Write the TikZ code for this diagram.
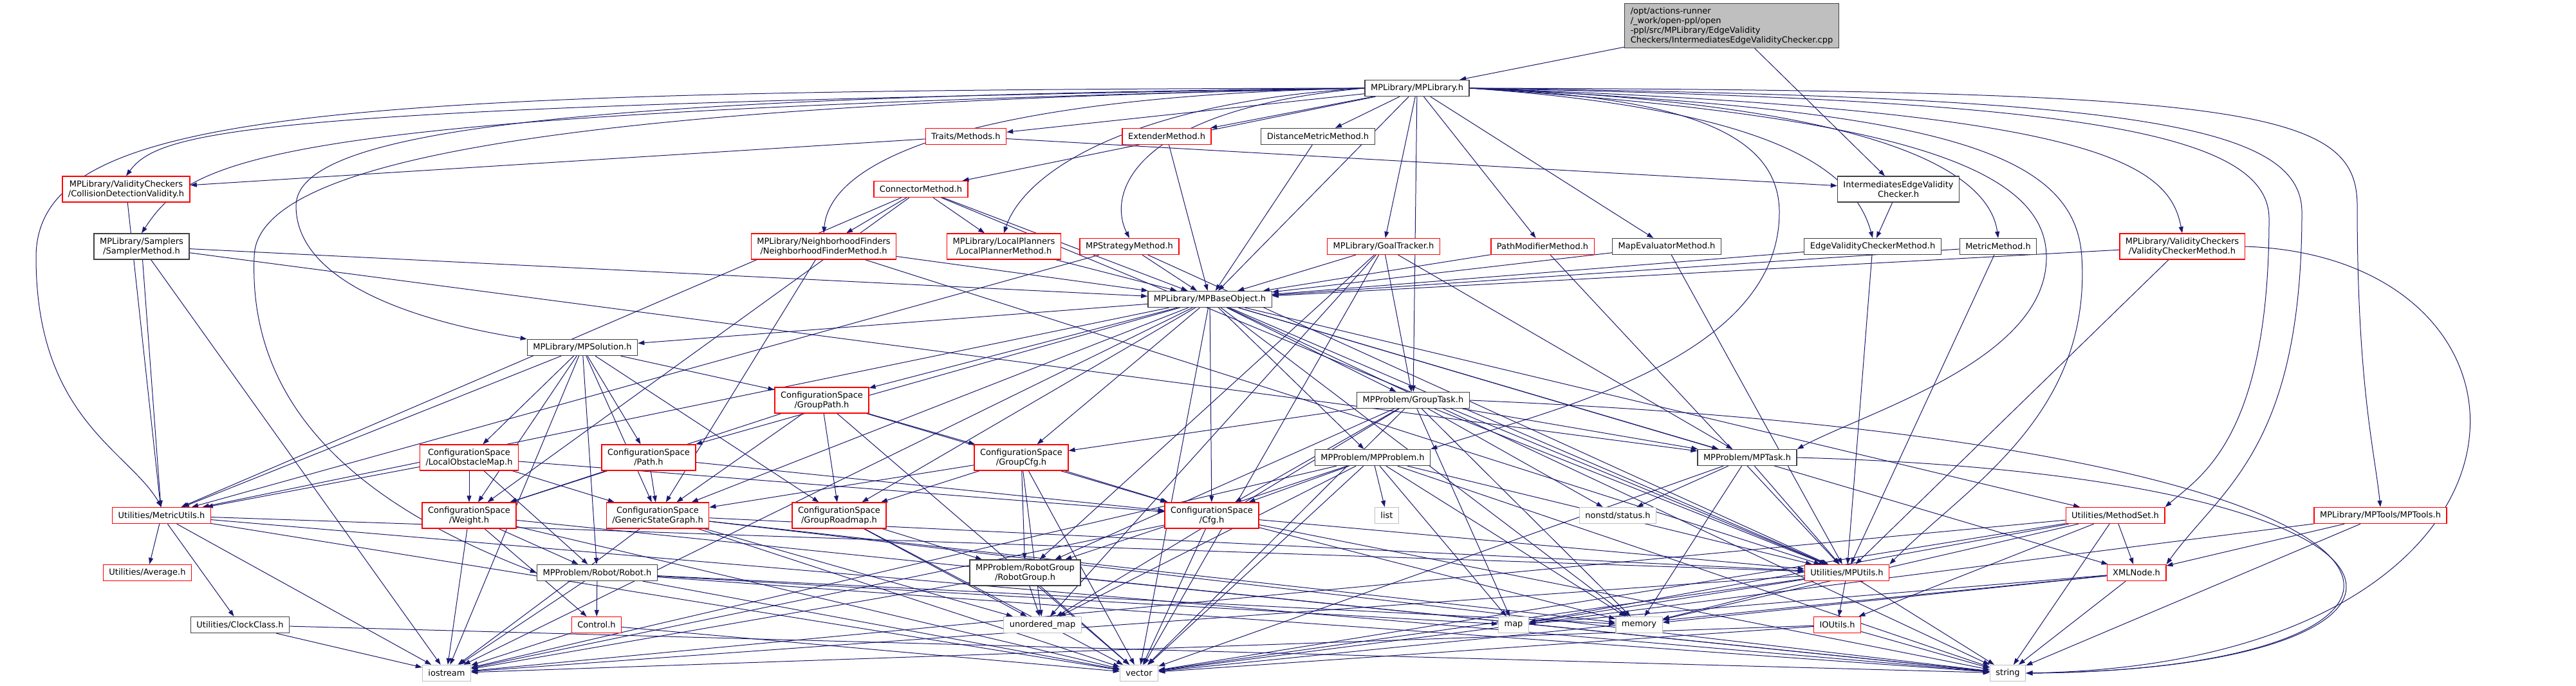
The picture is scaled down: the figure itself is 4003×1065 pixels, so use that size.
\documentclass[tikz,border=0pt]{standalone}
\usepackage{fontspec}
\setmainfont{DejaVu Sans}
\usetikzlibrary{arrows.meta}
\definecolor{edgeblue}{HTML}{191970}
\pgfdeclarelayer{bg}
\pgfsetlayers{bg,main}
\begin{document}
\begin{tikzpicture}[x=1pt, y=-1pt,
    font=\fontsize{13}{15}\selectfont,
    file/.style={draw=black!75, fill=white, line width=1.3pt, align=center,
      inner xsep=9pt, inner ysep=2pt, minimum height=25pt},
    trunc/.style={file, draw=red},
    sys/.style={file, draw=black!25},
    root/.style={file, fill=black!25, align=left, minimum height=69pt},
    twoline/.style={minimum height=40pt},
    dep/.style={draw=edgeblue, line width=1pt, -{Triangle[length=10pt,width=7pt]}}]
  \useasboundingbox (0,0) rectangle (4003,1065);
  \node[root] (root) at (2691,40) {/opt/actions-runner\\/\_work/open-ppl/open\\-ppl/src/MPLibrary/EdgeValidity\\Checkers/IntermediatesEdgeValidityChecker.cpp};
  \node[file] (mplib) at (2202,137) {MPLibrary/MPLibrary.h};
  \node[trunc] (traits) at (1501,212) {Traits/Methods.h};
  \node[trunc] (extender) at (1813,212) {ExtenderMethod.h};
  \node[file] (distmetric) at (2048,212) {DistanceMetricMethod.h};
  \node[trunc, twoline] (cdv) at (196,294) {MPLibrary/ValidityCheckers\\/CollisionDetectionValidity.h};
  \node[trunc] (connector) at (1431,294) {ConnectorMethod.h};
  \node[file, twoline] (ievc) at (2950,294) {IntermediatesEdgeValidity\\Checker.h};
  \node[file, twoline] (sampler) at (220,383) {MPLibrary/Samplers\\/SamplerMethod.h};
  \node[trunc, twoline] (nfm) at (1280,383) {MPLibrary/NeighborhoodFinders\\/NeighborhoodFinderMethod.h};
  \node[trunc, twoline] (lpm) at (1560,383) {MPLibrary/LocalPlanners\\/LocalPlannerMethod.h};
  \node[trunc] (strategy) at (1755,383) {MPStrategyMethod.h};
  \node[trunc] (goal) at (2150,383) {MPLibrary/GoalTracker.h};
  \node[trunc] (pathmod) at (2397,383) {PathModifierMethod.h};
  \node[file] (mapeval) at (2590,383) {MapEvaluatorMethod.h};
  \node[file] (evcm) at (2910,383) {EdgeValidityCheckerMethod.h};
  \node[file] (metric) at (3105,383) {MetricMethod.h};
  \node[trunc, twoline] (vcm) at (3391,383) {MPLibrary/ValidityCheckers\\/ValidityCheckerMethod.h};
  \node[file] (base) at (1880,465) {MPLibrary/MPBaseObject.h};
  \node[file] (solution) at (905,540) {MPLibrary/MPSolution.h};
  \node[trunc, twoline] (grouppath) at (1277,622) {ConfigurationSpace\\/GroupPath.h};
  \node[file] (grouptask) at (2196,622) {MPProblem/GroupTask.h};
  \node[trunc, twoline] (lom) at (729,711) {ConfigurationSpace\\/LocalObstacleMap.h};
  \node[trunc, twoline] (path) at (1008,711) {ConfigurationSpace\\/Path.h};
  \node[trunc, twoline] (groupcfg) at (1587,711) {ConfigurationSpace\\/GroupCfg.h};
  \node[file] (problem) at (2133,711) {MPProblem/MPProblem.h};
  \node[file] (task) at (2715,711) {MPProblem/MPTask.h};
  \node[trunc] (metricutils) at (251,801) {Utilities/MetricUtils.h};
  \node[trunc, twoline] (weight) at (729,801) {ConfigurationSpace\\/Weight.h};
  \node[trunc, twoline] (gsg) at (1022,801) {ConfigurationSpace\\/GenericStateGraph.h};
  \node[trunc, twoline] (roadmap) at (1304,801) {ConfigurationSpace\\/GroupRoadmap.h};
  \node[trunc, twoline] (cfg) at (1883,801) {ConfigurationSpace\\/Cfg.h};
  \node[sys] (list) at (2155,801) {list};
  \node[sys] (status) at (2514,801) {nonstd/status.h};
  \node[trunc] (methodset) at (3287,801) {Utilities/MethodSet.h};
  \node[trunc] (mptools) at (3699,801) {MPLibrary/MPTools/MPTools.h};
  \node[trunc] (average) at (229,890) {Utilities/Average.h};
  \node[file] (robot) at (928,890) {MPProblem/Robot/Robot.h};
  \node[file, twoline] (robotgroup) at (1593,890) {MPProblem/RobotGroup\\/RobotGroup.h};
  \node[trunc] (mputils) at (2870,890) {Utilities/MPUtils.h};
  \node[trunc] (xmlnode) at (3320,890) {XMLNode.h};
  \node[file] (clock) at (373,971) {Utilities/ClockClass.h};
  \node[trunc] (control) at (927,971) {Control.h};
  \node[sys] (umap) at (1620,971) {unordered\_map};
  \node[sys] (map) at (2352,971) {map};
  \node[sys] (memory) at (2547,971) {memory};
  \node[trunc] (ioutils) at (2855,971) {IOUtils.h};
  \node[sys] (iostream) at (694,1046) {iostream};
  \node[sys] (vector) at (1770,1046) {vector};
  \node[sys] (string) at (3120,1046) {string};
  \begin{pgfonlayer}{bg}
    \foreach \t in {mplib,ievc} \draw[dep] (root) -- (\t);
    \foreach \t in {traits,extender,distmetric,connector,goal,pathmod,mapeval,base,grouptask}
      \draw[dep] (mplib) -- (\t);
    \draw[dep] (mplib.west) .. controls (400,165) and (250,200) .. (cdv.north);
    \draw[dep] (mplib.west) .. controls (420,175) and (300,240) .. (sampler.north);
    \draw[dep] (mplib.west) .. controls (500,140) and (56,170) .. (56,400) .. controls (56,650) and (200,700) .. (metricutils.north);
    \draw[dep] (mplib.west) .. controls (900,150) and (460,200) .. (460,320) .. controls (460,440) and (650,500) .. (solution.north west);
    \draw[dep] (mplib.west) .. controls (1000,160) and (395,230) .. (395,400) .. controls (385,660) and (600,800) .. (robot.west);
    \draw[dep] (mplib.west) .. controls (1500,150) and (1290,250) .. (nfm.north);
    \draw[dep] (mplib.west) .. controls (1750,160) and (1590,270) .. (lpm.north);
    \draw[dep] (mplib.west) .. controls (1760,170) and (1720,300) .. (strategy.north);
    \draw[dep] (mplib.east) .. controls (2750,170) and (2880,260) .. (evcm.north);
    \draw[dep] (mplib.east) .. controls (2900,160) and (3090,260) .. (metric.north);
    \draw[dep] (mplib.east) .. controls (3250,170) and (3370,250) .. (vcm.north);
    \draw[dep] (mplib.east) .. controls (2600,150) and (2765,200) .. (2765,330) .. controls (2765,560) and (2400,640) .. (problem.north east);
    \draw[dep] (mplib.east) .. controls (2950,180) and (3180,260) .. (3180,400) .. controls (3180,560) and (2900,640) .. (task.north east);
    \draw[dep] (mplib.east) .. controls (3000,170) and (3225,230) .. (3235,400) .. controls (3250,650) and (3050,760) .. (mputils.north east);
    \draw[dep] (mplib.east) .. controls (3200,155) and (3526,200) .. (3526,340) .. controls (3526,680) and (3420,740) .. (methodset.north east);
    \draw[dep] (mplib.east) .. controls (3300,150) and (3577,190) .. (3577,330) .. controls (3577,700) and (3450,760) .. (xmlnode.north east);
    \draw[dep] (mplib.east) .. controls (3500,140) and (3663,170) .. (3663,320) .. controls (3663,600) and (3690,700) .. (mptools.north);
    \foreach \t in {cdv,ievc} \draw[dep] (traits) -- (\t);
    \draw[dep] (extender) -- (base);
    \draw[dep] (distmetric) -- (base);
    \foreach \t in {nfm,lpm,base,metricutils,weight,mputils} \draw[dep] (connector) -- (\t);
    \draw[dep] (cdv) -- (metricutils);
    \foreach \t in {base,task,metricutils,iostream} \draw[dep] (sampler) -- (\t);
    \draw[dep] (ievc) -- (evcm);
    \foreach \t in {base,gsg,mputils} \draw[dep] (nfm) -- (\t);
    \draw[dep] (lpm) -- (base);
    \foreach \t in {base,metricutils,mputils} \draw[dep] (strategy) -- (\t);
    \foreach \t in {base,grouptask,task,robotgroup,umap,vector} \draw[dep] (goal) -- (\t);
    \foreach \s in {pathmod,mapeval,evcm,metric,vcm} {
      \draw[dep] (\s) -- (base);
      \draw[dep] (\s) -- (mputils);
    }
    \draw[dep] (vcm.east) .. controls (4000,400) and (4000,1030) .. (string.east);
    \foreach \t in {solution,grouppath,path,groupcfg,roadmap,gsg,grouptask,problem,task,cfg,metricutils,mputils,methodset,xmlnode,iostream,string,vector,memory}
      \draw[dep] (base) -- (\t);
    \foreach \t in {grouppath,lom,path,weight,gsg,roadmap,metricutils,robot,iostream} \draw[dep] (solution) -- (\t);
    \foreach \t in {groupcfg,roadmap,gsg,weight,cfg,vector} \draw[dep] (grouppath) -- (\t);
    \foreach \t in {metricutils,weight,gsg,cfg,robot} \draw[dep] (lom) -- (\t);
    \foreach \t in {weight,gsg,cfg} \draw[dep] (path) -- (\t);
    \foreach \t in {roadmap,gsg,cfg,robotgroup,vector,umap} \draw[dep] (groupcfg) -- (\t);
    \foreach \t in {task,status,groupcfg,cfg,robotgroup,map,memory,vector,mputils,umap} \draw[dep] (grouptask) -- (\t);
    \draw[dep] (grouptask.east) .. controls (3920,690) and (3900,1040) .. (string.east);
    \foreach \t in {list,cfg,robotgroup,map,memory,vector,string,mputils,iostream,umap} \draw[dep] (problem) -- (\t);
    \foreach \t in {status,mputils,memory,vector} \draw[dep] (task) -- (\t);
    \draw[dep] (task.east) .. controls (3860,740) and (3860,1040) .. (string.east);
    \foreach \t in {average,clock,iostream,vector,string,mputils} \draw[dep] (metricutils) -- (\t);
    \foreach \t in {robot,control,iostream,vector,string} \draw[dep] (weight) -- (\t);
    \foreach \t in {mputils,vector,umap,iostream,string,memory} \draw[dep] (gsg) -- (\t);
    \foreach \t in {robotgroup,vector,umap} \draw[dep] (roadmap) -- (\t);
    \foreach \t in {mputils,vector,iostream,memory,string} \draw[dep] (cfg) -- (\t);
    \foreach \t in {control,iostream,vector,string,memory,map} \draw[dep] (robot) -- (\t);
    \foreach \t in {umap,vector,string,iostream} \draw[dep] (robotgroup) -- (\t);
    \foreach \t in {iostream,string} \draw[dep] (clock) -- (\t);
    \foreach \t in {iostream,vector} \draw[dep] (control) -- (\t);
    \foreach \t in {ioutils,map,memory,vector,string,iostream} \draw[dep] (mputils) -- (\t);
    \foreach \t in {vector,string,iostream} \draw[dep] (ioutils) -- (\t);
    \foreach \t in {xmlnode,string,iostream,vector,map,memory,ioutils} \draw[dep] (methodset) -- (\t);
    \foreach \t in {xmlnode,string,vector} \draw[dep] (mptools) -- (\t);
    \foreach \t in {string,vector,memory,map} \draw[dep] (xmlnode) -- (\t);
  \end{pgfonlayer}
\end{tikzpicture}
\end{document}
